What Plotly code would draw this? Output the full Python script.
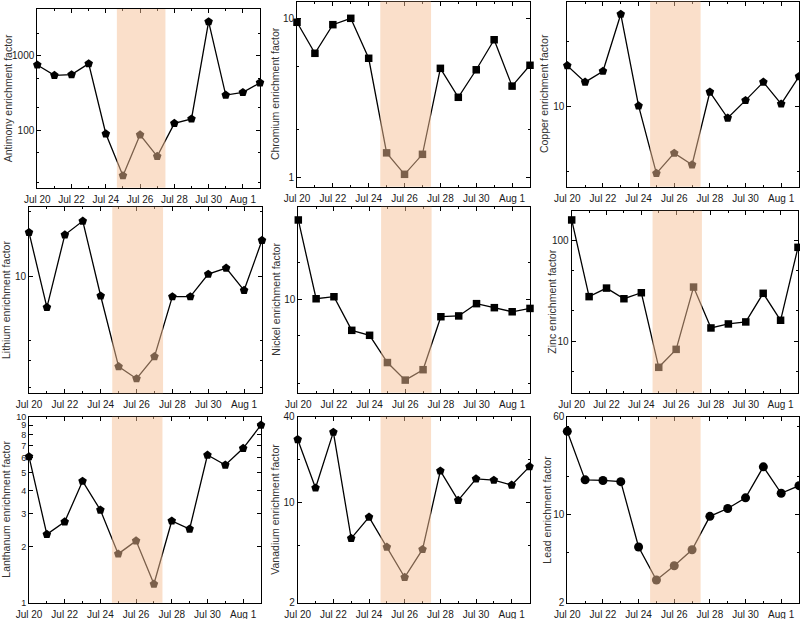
import plotly.graph_objects as go

dates = ["2019-07-%02d" % d for d in range(20, 32)] + ["2019-08-01", "2019-08-02"]

antimony = [751, 546, 557, 782, 90, 24.7, 87, 44.9, 124, 142, 2850, 297, 322, 434]
chromium = [9.44, 6.02, 9.12, 10.0, 5.6, 1.42, 1.04, 1.39, 4.84, 3.18, 4.74, 7.33, 3.74, 5.06]
copper = [15.5, 13.0, 14.6, 26.8, 10.1, 4.92, 6.1, 5.39, 11.7, 8.87, 10.7, 13.0, 10.3, 13.8]
lithium = [16.0, 7.13, 15.6, 18.1, 8.06, 3.76, 3.30, 4.19, 8.0, 8.0, 10.2, 10.9, 8.57, 14.7]
nickel = [45.4, 10.1, 10.5, 5.53, 5.03, 2.99, 2.14, 2.61, 7.17, 7.28, 9.2, 8.52, 7.88, 8.4]
zinc = [161, 27.7, 33.7, 26.4, 30.3, 5.47, 8.26, 34.5, 13.5, 14.8, 15.5, 29.9, 16.1, 85.9]
lanthanum = [6.1, 2.33, 2.72, 4.5, 3.15, 1.83, 2.15, 1.26, 2.75, 2.49, 6.22, 5.5, 6.76, 9.02]
vanadium = [27.7, 12.7, 31.2, 5.64, 7.94, 4.9, 3.01, 4.72, 16.7, 10.4, 14.7, 14.4, 13.3, 17.9]
lead = [45.9, 18.9, 18.7, 18.3, 5.54, 3.03, 3.93, 5.27, 9.7, 11.2, 13.6, 24.0, 14.8, 17.0]

titles = ["Antimony enrichment factor", "Chromium enrichment factor", "Copper enrichment factor",
          "Lithium enrichment factor", "Nickel enrichment factor", "Zinc enrichment factor",
          "Lanthanum enrichment factor", "Vanadium enrichment factor", "Lead enrichment factor"]
series = [antimony, chromium, copper, lithium, nickel, zinc, lanthanum, vanadium, lead]
symbols = ["pentagon", "square", "pentagon", "pentagon", "square", "square",
           "pentagon", "pentagon", "circle"]

y_ticks = [[100, 1000], [1, 10], [10], [10], [10], [10, 100],
           [1, 2, 3, 4, 5, 6, 7, 8, 9, 10], [2, 10, 40], [2, 10, 60]]
y_minor = [[20, 50, 200, 500, 2000], [2, 5], [5, 20], [3, 4, 5, 20], [2, 5, 20], [5, 20, 50],
           [], [5, 20], [5, 20, 50]]
y_ranges = [[1.232, 3.625], [-0.061, 1.106], [0.630, 1.487], [0.45, 1.325], [0.226, 1.767],
            [0.485, 2.299], [0.0, 1.0], [0.30103, 1.60206], [0.30103, 1.77815]]

# panel boxes in pixels: left, right, top, bottom
W, H = 800, 619
boxes = [(37.3, 260, 9, 187.7), (297, 530, 1.5, 186.7), (567.3, 799, 1.5, 186.7),
         (29, 262, 206.7, 393.3), (298.3, 530, 206.7, 392.7), (571.7, 798, 210.7, 392.7),
         (29, 261, 416.7, 602.7), (297.7, 529.5, 416.7, 602.7), (567.3, 799, 416.7, 602.7)]
title_x = [8, 275, 544, 6, 276, 552, 6, 275, 547]

shade_start = "2019-07-24 15:30"
shade_end = "2019-07-27 11:30"

fig = go.Figure()
layout = dict(width=W, height=H, margin=dict(l=0, r=0, t=0, b=0, autoexpand=False),
              paper_bgcolor="white", plot_bgcolor="white", showlegend=False,
              font=dict(family="Liberation Sans, Arial, sans-serif", size=10, color="#222"))
shapes = []
annotations = []
DAY = 86400000
for i in range(9):
    n = "" if i == 0 else str(i + 1)
    l, r, t, b = boxes[i]
    fig.add_trace(go.Scatter(
        x=dates, y=series[i], mode="lines+markers",
        line=dict(color="black", width=1.3),
        marker=dict(symbol=symbols[i], size=7.5 if symbols[i] == "square" else 9, color="black"),
        cliponaxis=False, xaxis="x" + n, yaxis="y" + n))
    layout["xaxis" + n] = dict(
        domain=[l / W, r / W], anchor="y" + n, type="date", automargin=False,
        range=["2019-07-20", "2019-08-02"], tick0="2019-07-20", dtick=2 * DAY,
        tickformat="%b %-d", ticks="inside", ticklen=4, tickcolor="black",
        ticklabelstandoff=2,
        showline=True, linecolor="black", linewidth=1, mirror="allticks",
        showgrid=False, zeroline=False, tickfont=dict(size=10, color="#1a1a1a"),
        minor=dict(dtick=DAY, tick0="2019-07-20", ticks="inside", ticklen=2, tickcolor="black"))
    ydict = dict(
        domain=[1 - b / H, 1 - t / H], anchor="x" + n, type="log", automargin=False,
        range=y_ranges[i], tickmode="array", tickvals=y_ticks[i],
        ticktext=[str(v) for v in y_ticks[i]],
        ticks="inside", ticklen=4, tickcolor="black",
        showline=True, linecolor="black", linewidth=1, mirror="allticks",
        showgrid=False, zeroline=False,
        tickfont=dict(size=9 if len(y_ticks[i]) > 5 else 10, color="#1a1a1a"))
    if y_minor[i]:
        ydict["minor"] = dict(tickmode="array", tickvals=y_minor[i], ticks="inside",
                              ticklen=2, tickcolor="black")
    layout["yaxis" + n] = ydict
    shapes.append(dict(type="rect", xref="x" + n, yref="y" + n + " domain",
                       x0=shade_start, x1=shade_end, y0=0, y1=1,
                       fillcolor="rgba(245,192,150,0.5)", line=dict(width=0), layer="above"))
    annotations.append(dict(text=titles[i], textangle=-90, xref="paper", yref="paper",
                            x=title_x[i] / W, y=1 - (t + b) / 2 / H, xanchor="center",
                            yanchor="middle", showarrow=False,
                            font=dict(size=10.5, color="#333")))
layout["shapes"] = shapes
layout["annotations"] = annotations
fig.update_layout(**layout)
fig.write_html("out.html", config={"displayModeBar": False},
               post_script="document.body.style.margin='0px';document.body.style.padding='0px';document.documentElement.style.overflow='hidden';")
